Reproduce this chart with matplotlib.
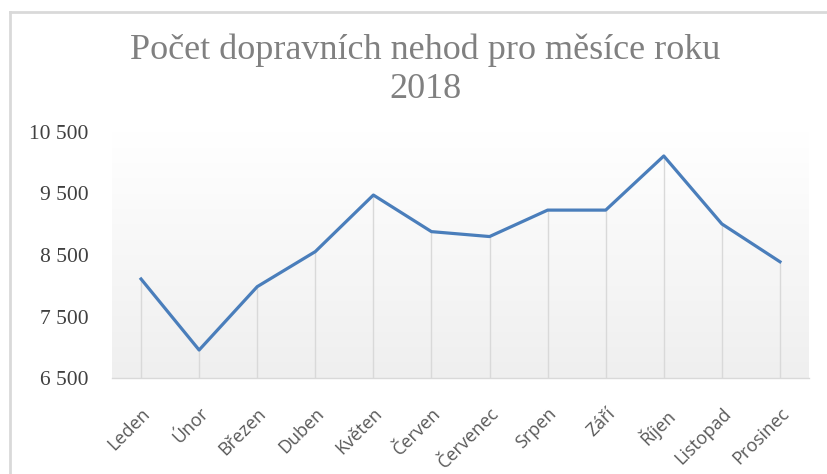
import numpy as np
import matplotlib
matplotlib.use("Agg")
import matplotlib.pyplot as plt
from matplotlib.ticker import FuncFormatter, FixedLocator
from matplotlib.colors import LinearSegmentedColormap
from matplotlib.lines import Line2D

months = ["Leden", "Únor", "Březen", "Duben", "Květen", "Červen",
          "Červenec", "Srpen", "Září", "Říjen", "Listopad", "Prosinec"]
accidents = [8110, 6955, 7985, 8555, 9475, 8880,
             8800, 9230, 9230, 10110, 9005, 8390]
yticks = [6500, 7500, 8500, 9500, 10500]
title = "Počet dopravních nehod pro měsíce roku\n2018"

W, H = 827, 474
fig = plt.figure(figsize=(W / 100, H / 100), dpi=100)
fig.patch.set_facecolor("white")

left, right, top, bottom = 112, 809, 132, 378
ax = fig.add_axes([left / W, 1 - bottom / H, (right - left) / W, (bottom - top) / H])

x = np.arange(len(months))
ax.set_xlim(-0.5, len(months) - 0.5)

# gradient plot-area background: white at top, light gray at bottom
cmap = LinearSegmentedColormap.from_list("g", ["#ffffff", "#efefef"])
grad = np.linspace(0, 1, 256).reshape(-1, 1)
ax.imshow(grad, cmap=cmap, aspect="auto",
          extent=[-0.5, len(months) - 0.5, yticks[0], yticks[-1]],
          origin="upper", zorder=0)
ax.set_ylim(yticks[0], yticks[-1])

# drop lines
ax.vlines(x, yticks[0], accidents, colors="#d9d9d9", linewidth=1.0, zorder=1)
ax.plot(x, accidents, color="#4a7ebb", linewidth=2.3, zorder=3, solid_joinstyle="round")

for s in ["top", "right", "left"]:
    ax.spines[s].set_visible(False)
ax.spines["bottom"].set_color("#d9d9d9")
ax.spines["bottom"].set_linewidth(1.0)

ax.yaxis.set_major_locator(FixedLocator(yticks))
ax.yaxis.set_major_formatter(FuncFormatter(lambda v, p: f"{int(v):,}".replace(",", " ")))
ax.tick_params(axis="y", length=0, pad=17, labelsize=15.5, labelcolor="#404040")
for lab in ax.get_yticklabels():
    lab.set_fontfamily("Liberation Serif")

ax.set_xticks(x)
ax.set_xticklabels(months, rotation=45, ha="right", va="top", rotation_mode="anchor",
                   fontsize=13, color="#595959", fontfamily="Open Sans")
ax.tick_params(axis="x", length=0, pad=19)

fig.text(0.514, 0.853, title, ha="center", va="center", fontsize=26,
         color="#808080", fontfamily="Liberation Serif", linespacing=1.22)

# chart-area border (left and top)
fig.add_artist(Line2D([10 / W, 10 / W], [0, 1 - 12 / H], transform=fig.transFigure,
                      color="#d9d9d9", linewidth=2))
fig.add_artist(Line2D([10 / W, 1], [1 - 12 / H, 1 - 12 / H], transform=fig.transFigure,
                      color="#d9d9d9", linewidth=2))

fig.savefig("out.png", dpi=100, facecolor="white")
